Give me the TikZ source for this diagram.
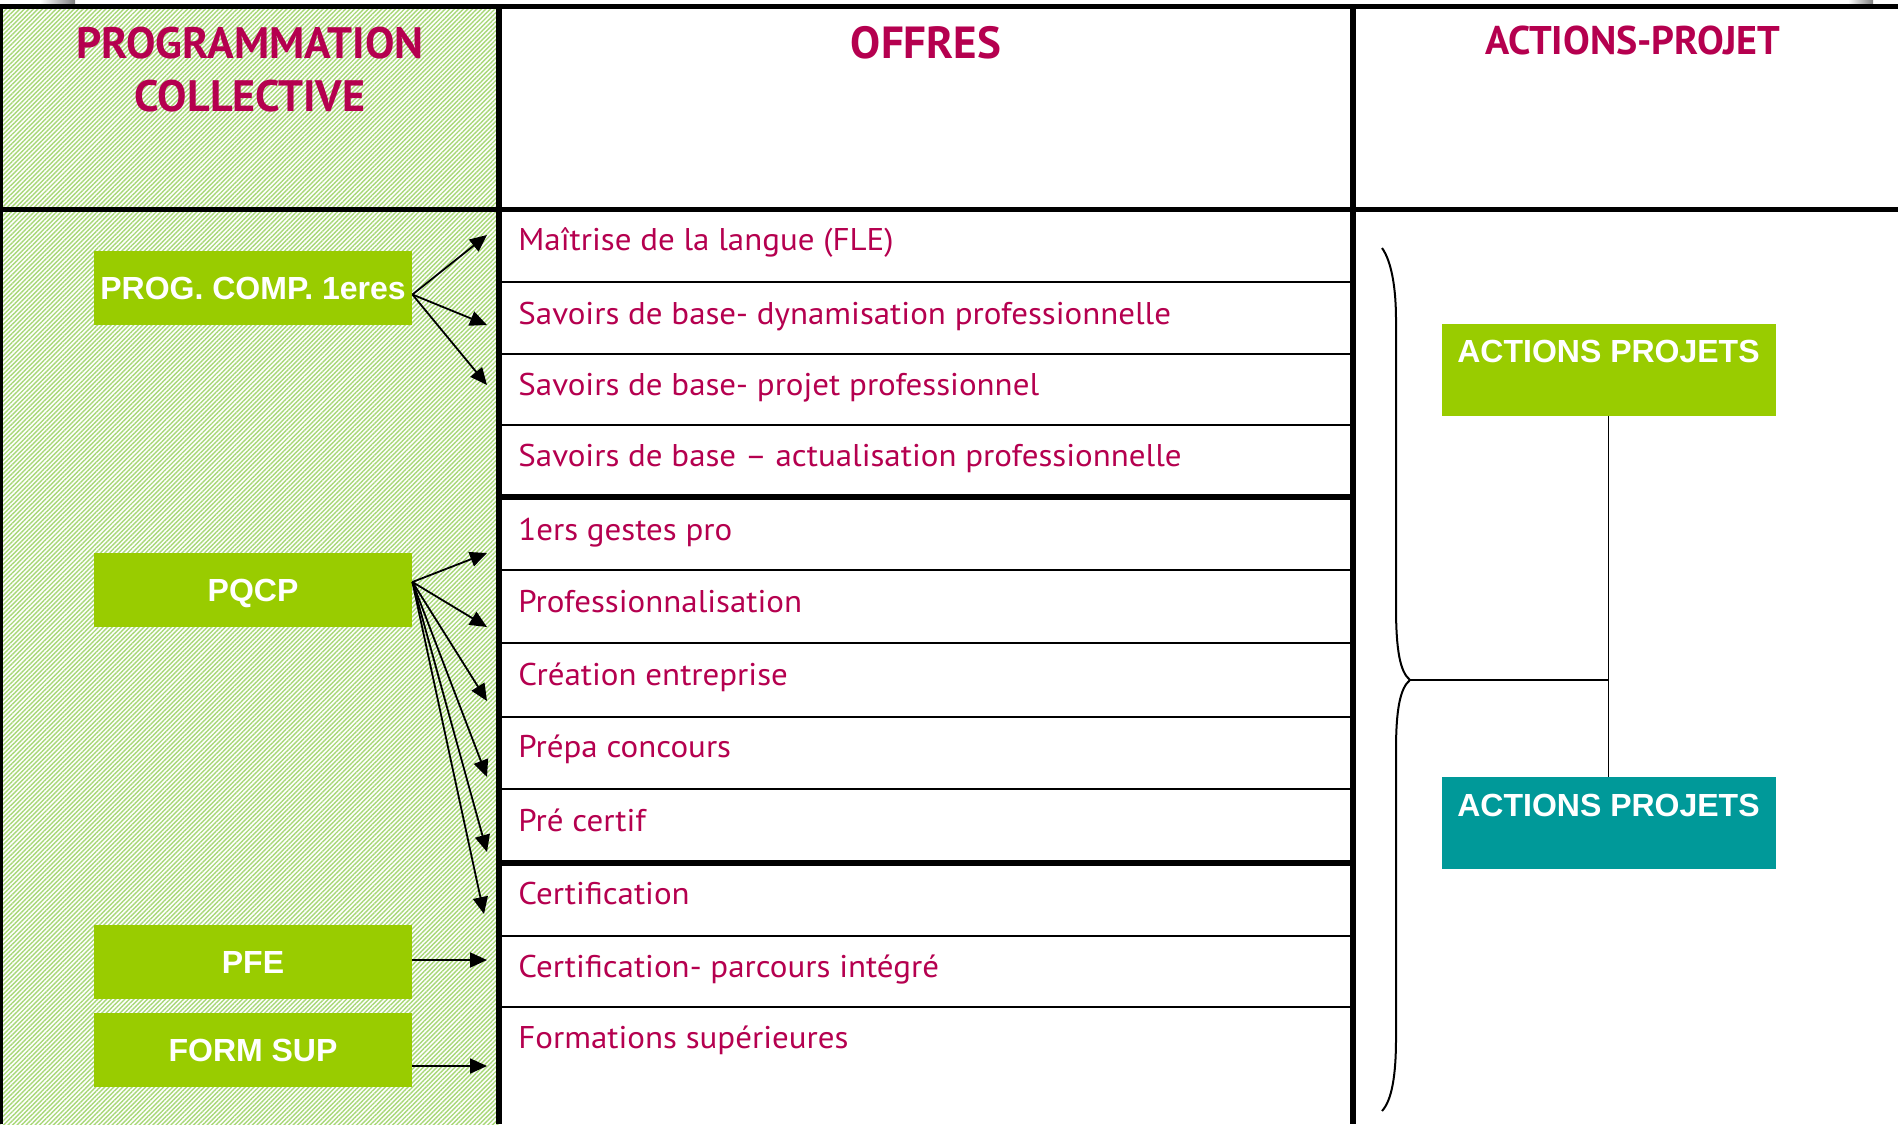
\documentclass[tikz,border=0pt]{standalone}
\usepackage{fontspec}
\setmainfont{PT Sans}
\newfontfamily\offerfont{PT Sans}[FakeStretch=1.05]
\newfontfamily\boxfont{Liberation Sans}
\usetikzlibrary{arrows.meta,patterns.meta,calc}
\definecolor{mag}{HTML}{B5004F}
\definecolor{boxgreen}{HTML}{99CC00}
\definecolor{boxteal}{HTML}{009999}
\definecolor{hatch}{HTML}{A8D878}
\tikzset{
  thickrule/.style={line width=2.6pt},
  thinrule/.style={line width=1pt},
  header/.style={text=mag, font=\bfseries\fontsize{20}{27.5}\selectfont, align=center, anchor=base, inner sep=0pt},
  offer/.style={text=mag, font=\offerfont\fontsize{15.7}{18}\selectfont, anchor=base west, inner sep=0pt},
  progbox/.style={fill=boxgreen, minimum width=159pt, minimum height=37pt, inner sep=0pt,
    text height=11.5pt, text depth=0pt,
    text=white, font=\boxfont\bfseries\fontsize{16}{18}\selectfont},
  apbox/.style={minimum width=167pt, minimum height=46pt, inner sep=0pt},
  aptext/.style={text=white, font=\boxfont\bfseries\fontsize{16}{18}\selectfont, anchor=base, inner sep=0pt},
  arr/.style={line width=0.9pt, -{Triangle[length=8.5pt,width=7.5pt]}},
  link/.style={line width=0.7pt},
}
\begin{document}
\begin{tikzpicture}[x=0.5pt,y=-0.5pt]
\useasboundingbox (0,0) rectangle (1898,1124);
\fill[white] (0,0) rectangle (1898,1124);
% hatched left column
\fill[pattern={Lines[angle=45,distance=1.6pt,line width=0.7pt]}, pattern color=hatch] (0,6) rectangle (499,1124);
% small grey artefacts at top
\shade[left color=white, right color=gray] (40,0) rectangle (75,3.5);
\shade[left color=white, right color=gray] (1848,0) rectangle (1873,3.5);

% table rules
\draw[thickrule] (0,6.5) -- (1898,6.5);
\draw[thickrule] (0,209.5) -- (1898,209.5);
\draw[line width=1.5pt] (1.5,6.5) -- (1.5,1124);
\draw[thickrule] (499,6.5) -- (499,1124);
\draw[thickrule] (1353,6.5) -- (1353,1124);
\foreach \y in {282,354,425,570,643,717,789,936,1007} \draw[thinrule] (499,\y) -- (1353,\y);
\foreach \y in {497,863} \draw[thickrule] (499,\y) -- (1353,\y);

% headers
\node[header, font=\bfseries\fontsize{22}{26.5}\selectfont] (h1) at (250,111.7) {PROGRAMMATION\\COLLECTIVE};
\node[header, font=\bfseries\fontsize{22.5}{27}\selectfont] (h2) at (926,58) {OFFRES};
\node[header] (h3) at (1633,54.5) {ACTIONS-PROJET};

% offers
\node[offer] (o1) at (518,250.6) {Maîtrise de la langue (FLE)};
\node[offer] (o2) at (518,324) {Savoirs de base- dynamisation professionnelle};
\node[offer] (o3) at (518,395.5) {Savoirs de base- projet professionnel};
\node[offer] (o4) at (518,466) {Savoirs de base – actualisation professionnelle};
\node[offer] (o5) at (518,540) {1ers gestes pro};
\node[offer] (o6) at (518,612.5) {Professionnalisation};
\node[offer] (o7) at (518,685) {Création entreprise};
\node[offer] (o8) at (518,757.8) {Prépa concours};
\node[offer] (o9) at (518,831.6) {Pré certif};
\node[offer] (o10) at (518,904) {Certification};
\node[offer] (o11) at (518,977) {Certification- parcours intégré};
\node[offer] (o12) at (518,1048.3) {Formations supérieures};

% arrow targets
\coordinate (t1) at (487,235);
\coordinate (t2) at (487,325);
\coordinate (t3) at (487,385);
\coordinate (t5) at (487,553);
\coordinate (t6) at (487,627);
\coordinate (t7) at (487,701);
\coordinate (t8) at (487,777);
\coordinate (t9) at (487,852);
\coordinate (t10) at (484,914);
\coordinate (t11) at (487,960);
\coordinate (t12) at (487,1066);

% programme boxes
\node[progbox] (prog) at (253,287.5) {PROG. COMP. 1eres};
\node[progbox] (pqcp) at (253,590) {PQCP};
\node[progbox] (pfe) at (253,961.5) {PFE};
\node[progbox] (fsup) at (253,1049.5) {FORM SUP};

\coordinate (sprog) at ($(prog.east)+(0,7)$);
\coordinate (spqcp) at ($(pqcp.east)+(0,-8)$);
\coordinate (spfe) at (pfe.east |- t11);
\coordinate (sfsup) at (fsup.east |- t12);

\foreach \t in {t1,t2,t3} \draw[arr] (sprog) -- (\t);
\foreach \t in {t5,t6,t7,t8,t9,t10} \draw[arr] (spqcp) -- (\t);
\draw[arr] (spfe) -- (t11);
\draw[arr] (sfsup) -- (t12);

% right column
\node[apbox, fill=boxgreen] (ap1) at (1608.5,369.5) {};
\node[aptext] (ap1t) at ($(ap1.north)+(0,39)$) {ACTIONS PROJETS};
\node[apbox, fill=boxteal] (ap2) at (1608.5,823) {};
\node[aptext] (ap2t) at ($(ap2.north)+(0,40)$) {ACTIONS PROJETS};

\coordinate (cusp) at (1410,680);
\draw[line width=1pt] (1382,248) .. controls (1392,262) and (1396,290) .. (1396,320)
  -- (1396,607) .. controls (1396,650) and (1400,672) .. (cusp)
  .. controls (1400,688) and (1396,710) .. (1396,750)
  -- (1396,1038) .. controls (1396,1075) and (1392,1100) .. (1382,1111);
\draw[link] (cusp) -- (ap1.south |- cusp);
\draw[link] (ap1.south) -- (ap2.north);
\end{tikzpicture}
\end{document}
